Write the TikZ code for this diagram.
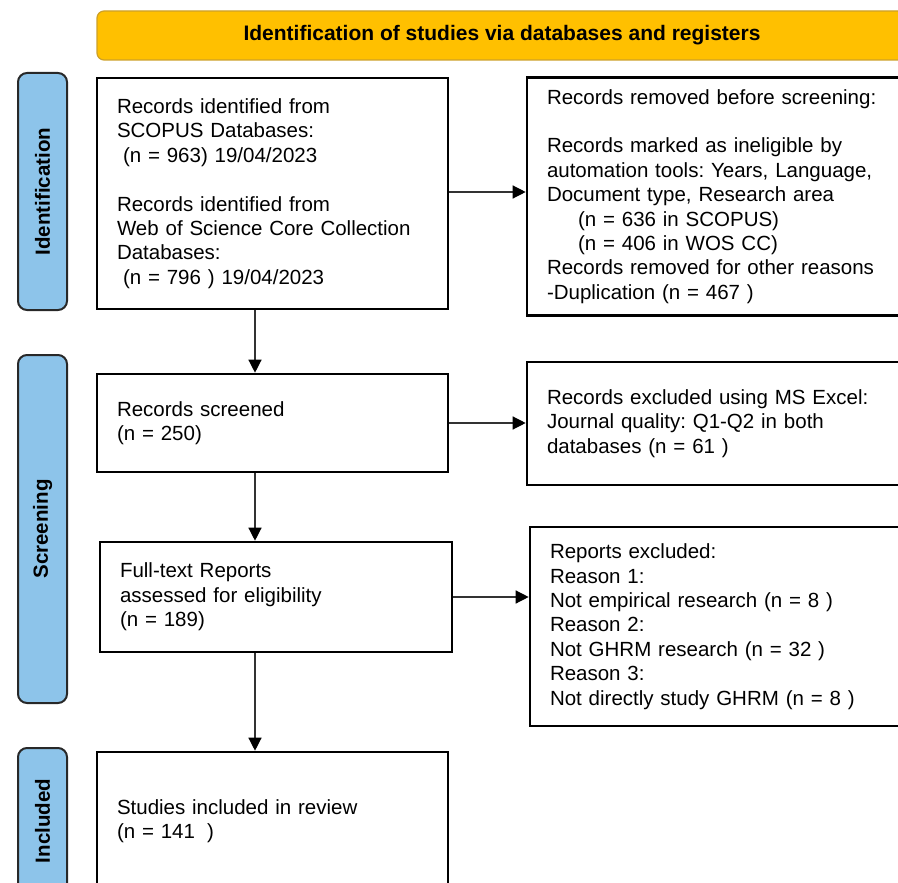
\documentclass[tikz,border=0pt]{standalone}
\usepackage{fontspec}
\setmainfont{Liberation Sans}
\usetikzlibrary{arrows.meta}
\definecolor{bannerfill}{RGB}{255,192,0}
\definecolor{bannerline}{RGB}{205,160,40}
\definecolor{lanefill}{RGB}{141,196,234}
\definecolor{laneline}{RGB}{40,40,40}
\definecolor{connline}{RGB}{50,50,50}
\frenchspacing
\begin{document}
\begin{tikzpicture}[x=1pt,y=-1pt,
  bodyfont/.style={font=\fontsize{20.5}{24.4}\selectfont\frenchspacing},
  flowbox/.style={draw=black, line width=2.6pt, fill=white, inner xsep=20pt,
    inner ysep=0pt, align=left, anchor=center, bodyfont},
  lanebox/.style={draw=laneline, line width=2pt, fill=lanefill,
    rounded corners=9pt, minimum width=49pt, inner sep=0pt},
  lanetext/.style={rotate=90, inner sep=0pt,
    font=\bfseries\fontsize{20.5}{24}\selectfont},
  banner/.style={draw=bannerline, line width=1.2pt, fill=bannerfill,
    rounded corners=7pt, inner sep=0pt,
    font=\bfseries\fontsize{21}{24}\selectfont},
  conn/.style={draw=connline, line width=1.3pt,
    -{Triangle[length=13pt,width=13pt,color=black]}}
]
\useasboundingbox (0,0) rectangle (898,883);
\clip (0,0) rectangle (898,883);

% banner
\node[banner, minimum width=810pt, minimum height=49pt] (ban) at (502,35.5)
  {Identification of studies via databases and registers};

% lane labels
\node[lanebox, minimum height=237pt] (labid) at (42.5,191.5) {};
\node[lanetext] (labidt) at (labid.center) {Identification};
\node[lanebox, minimum height=348pt] (labsc) at (42.5,529) {};
\node[lanetext] (labsct) at (labsc.center) {Screening};
\node[lanebox, minimum height=146pt] (labin) at (42.5,821) {};
\node[lanetext] (labint) at (labin.center) {Included};

% boxes
\node[flowbox, text width=311pt, minimum height=231pt] (b1) at (272.5,193.5)
  {Records identified from\\
   SCOPUS Databases:\\
   \hspace*{6pt}(n = 963) 19/04/2023\\[24.4pt]
   Records identified from\\
   Web of Science Core Collection\\
   Databases:\\
   \hspace*{6pt}(n = 796 ) 19/04/2023};

\node[flowbox, text width=338pt, minimum height=238pt] (b2) at (716,196.5)
  {Records removed before screening:\\[24.4pt]
   Records marked as ineligible by\\
   automation tools: Years, Language,\\
   Document type, Research area\\
   \hspace*{31pt}(n = 636 in SCOPUS)\\
   \hspace*{31pt}(n = 406 in WOS CC)\\
   Records removed for other reasons\\
   -Duplication (n = 467 )};

\node[flowbox, text width=311pt, minimum height=98pt] (b3) at (272.5,423)
  {Records screened\\
   (n = 250)};

\node[flowbox, text width=338pt, minimum height=123pt] (b5) at (716,423.5)
  {Records excluded using MS Excel:\\
   Journal quality: Q1-Q2 in both\\
   databases (n = 61 )};

\node[flowbox, text width=312pt, minimum height=110pt] (b4) at (276,597)
  {Full-text Reports\\
   assessed for eligibility\\
   (n = 189)};

\node[flowbox, text width=335pt, minimum height=199pt] (b6) at (717.5,626.5)
  {Reports excluded:\\
   Reason 1:\\
   Not empirical research (n = 8 )\\
   Reason 2:\\
   Not GHRM research (n = 32 )\\
   Reason 3:\\
   Not directly study GHRM (n = 8 )};

\node[flowbox, text width=311pt, minimum height=138pt] (b7) at (272.5,821)
  {Studies included in review\\
   (n = 141\hspace*{12pt})};

% connectors
\coordinate (ax) at (255,0);
\draw[conn] (b1.east |- 0,192) -- (b2.west |- 0,192);
\draw[conn] (b3.east) -- (b3.east -| b5.west);
\draw[conn] (b4.east) -- (b4.east -| b6.west);
\draw[conn] (b1.south -| ax) -- (b3.north -| ax);
\draw[conn] (b3.south -| ax) -- (b4.north -| ax);
\draw[conn] (b4.south -| ax) -- (b7.north -| ax);
\end{tikzpicture}
\end{document}
